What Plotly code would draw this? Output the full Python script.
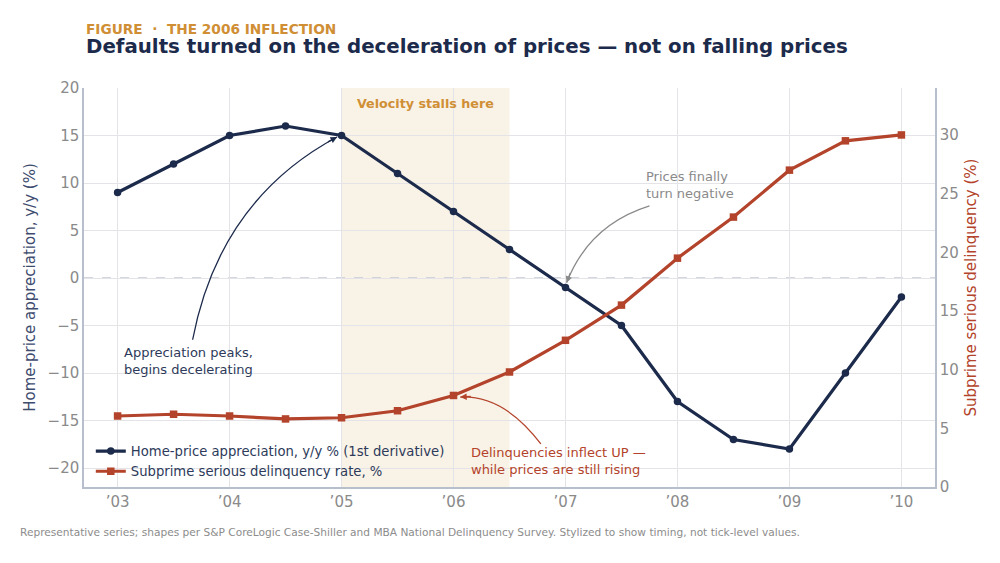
import plotly.graph_objects as go

# half-year points, 2003 .. 2010
years = [2003, 2003.5, 2004, 2004.5, 2005, 2005.5, 2006, 2006.5,
         2007, 2007.5, 2008, 2008.5, 2009, 2009.5, 2010]
hpa = [9, 12, 15, 16, 15, 11, 7, 3, -1, -5, -13, -17, -18, -10, -2]
delinq = [6.05, 6.2, 6.05, 5.8, 5.9, 6.5, 7.8, 9.8, 12.5, 15.5, 19.5, 23, 27, 29.5, 30]

year_ticks = [2003, 2004, 2005, 2006, 2007, 2008, 2009, 2010]
year_labels = ["’03", "’04", "’05", "’06", "’07", "’08", "’09", "’10"]

NAVY = "#1c2a4b"
RED = "#b3432a"
GOLD = "#d08f35"
GREY = "#8a8a8a"
AXIS = "#b8bfcc"
GRID = "#e4e4e8"
FONT = "DejaVu Sans"

fig = go.Figure()

fig.add_trace(go.Scatter(
    x=years, y=hpa, mode="lines+markers",
    name="Home-price appreciation, y/y % (1st derivative)",
    line=dict(color=NAVY, width=3.2), marker=dict(symbol="circle", size=7.5, color=NAVY),
))
fig.add_trace(go.Scatter(
    x=years, y=delinq, mode="lines+markers", yaxis="y2",
    name="Subprime serious delinquency rate, %",
    line=dict(color=RED, width=3.2), marker=dict(symbol="square", size=7.5, color=RED),
))

# "velocity stalls" band, translucent so the grid shows through
fig.add_shape(type="rect", xref="x", yref="paper", x0=2005, x1=2006.5, y0=0, y1=1,
              fillcolor="rgba(226, 190, 135, 0.2)", line_width=0, layer="below")
# zero line
fig.add_shape(type="line", xref="paper", yref="y", x0=0, x1=1, y0=0, y1=0,
              line=dict(color="#c3c9d3", width=1.3, dash="dash"), layer="below")

# curved callout arrows (quadratic paths) + arrowheads
curves = [
    # start, control, end, colour, head offset
    ((2003.67, -6.5), (2003.91, 8.2), (2004.96, 14.84), NAVY, (-10.6, 5.6)),
    ((2007.75, 7.58), (2007.21, 5.58), (2007.01, -0.5), GREY, (4.2, -11.3)),
    ((2006.78, -17.47), (2006.45, -12.32), (2006.06, -12.53), RED, (12, -0.6)),
]
for (x0, y0), (cx, cy), (x1, y1), col, (hx, hy) in curves:
    fig.add_shape(type="path", xref="x", yref="y",
                  path=f"M {x0},{y0} Q {cx},{cy} {x1},{y1}",
                  line=dict(color=col, width=1.3))
    fig.add_annotation(x=x1, y=y1, xref="x", yref="y", ax=hx, ay=hy, text="",
                       showarrow=True, arrowhead=2, arrowsize=1, arrowwidth=1.3,
                       arrowcolor=col)

fig.add_annotation(x=2005.75, y=19.4, xref="x", yref="y", text="<b>Velocity stalls here</b>",
                   showarrow=False, font=dict(family=FONT, size=12.7, color=GOLD), yanchor="top")
fig.add_annotation(x=2003.04, y=-8.7, xref="x", yref="y",
                   text="Appreciation peaks,<br>begins decelerating", align="left",
                   showarrow=False, xanchor="left", yanchor="middle",
                   font=dict(family=FONT, size=13, color="#2d3a5a"))
fig.add_annotation(x=2007.7, y=9.8, xref="x", yref="y",
                   text="Prices finally<br>turn negative", align="left",
                   showarrow=False, xanchor="left", yanchor="middle",
                   font=dict(family=FONT, size=13, color=GREY))
fig.add_annotation(x=2006.14, y=-19.3, xref="x", yref="y",
                   text="Delinquencies inflect UP —<br>while prices are still rising", align="left",
                   showarrow=False, xanchor="left", yanchor="middle",
                   font=dict(family=FONT, size=13, color=RED))

# titles and footer
fig.add_annotation(x=0, y=1.148, xref="paper", yref="paper", xanchor="left", yanchor="middle",
                   text="<b>FIGURE  ·  THE 2006 INFLECTION</b>", showarrow=False,
                   font=dict(family=FONT, size=13.7, color=GOLD))
fig.add_annotation(x=0, y=1.103, xref="paper", yref="paper", xanchor="left", yanchor="middle",
                   text="<b>Defaults turned on the deceleration of prices — not on falling prices</b>",
                   showarrow=False, font=dict(family=FONT, size=19.8, color=NAVY))
fig.add_annotation(x=-0.0776, y=-0.113, xref="paper", yref="paper", xanchor="left", yanchor="middle",
                   text="Representative series; shapes per S&P CoreLogic Case-Shiller and MBA National "
                        "Delinquency Survey. Stylized to show timing, not tick-level values.",
                   showarrow=False, font=dict(family=FONT, size=10.6, color="#8c8c8c"))

# the page body adds an 8px offset, so the figure is sized to fit inside it
fig.update_layout(
    width=992, height=555,
    margin=dict(l=76, r=65, t=80, b=76),
    paper_bgcolor="white", plot_bgcolor="white",
    font=dict(family=FONT, size=14, color=GREY),
    showlegend=True,
    legend=dict(x=0.008, y=0.0, xanchor="left", yanchor="bottom",
                bgcolor="rgba(255,255,255,0)", borderwidth=0,
                font=dict(family=FONT, size=13.2, color="#2d3a5a"), tracegroupgap=0),
    xaxis=dict(range=[2002.7, 2010.3], tickvals=year_ticks, ticktext=year_labels,
               showgrid=True, gridcolor=GRID, showline=True, linecolor=AXIS, linewidth=1.5,
               zeroline=False, ticks="", tickfont=dict(size=15, color=GREY)),
    yaxis=dict(range=[-22, 20], tickvals=[-20, -15, -10, -5, 0, 5, 10, 15, 20],
               ticktext=["−20", "−15", "−10", "−5", "0", "5", "10", "15", "20"],
               showgrid=True, gridcolor=GRID, showline=True, linecolor=AXIS, linewidth=1.5,
               zeroline=False, ticks="", tickfont=dict(size=15, color=GREY),
               title=dict(text="Home-price appreciation, y/y (%)", font=dict(size=15, color="#3d4b6e"),
                          standoff=8)),
    yaxis2=dict(range=[0, 34], tickvals=[0, 5, 10, 15, 20, 25, 30], overlaying="y", side="right",
                showgrid=False, showline=True, linecolor=AXIS, linewidth=1.5, zeroline=False,
                ticks="", tickfont=dict(size=15, color=GREY),
                title=dict(text="Subprime serious delinquency (%)", font=dict(size=15, color=RED),
                           standoff=8)),
)

fig.write_html("out.html")
